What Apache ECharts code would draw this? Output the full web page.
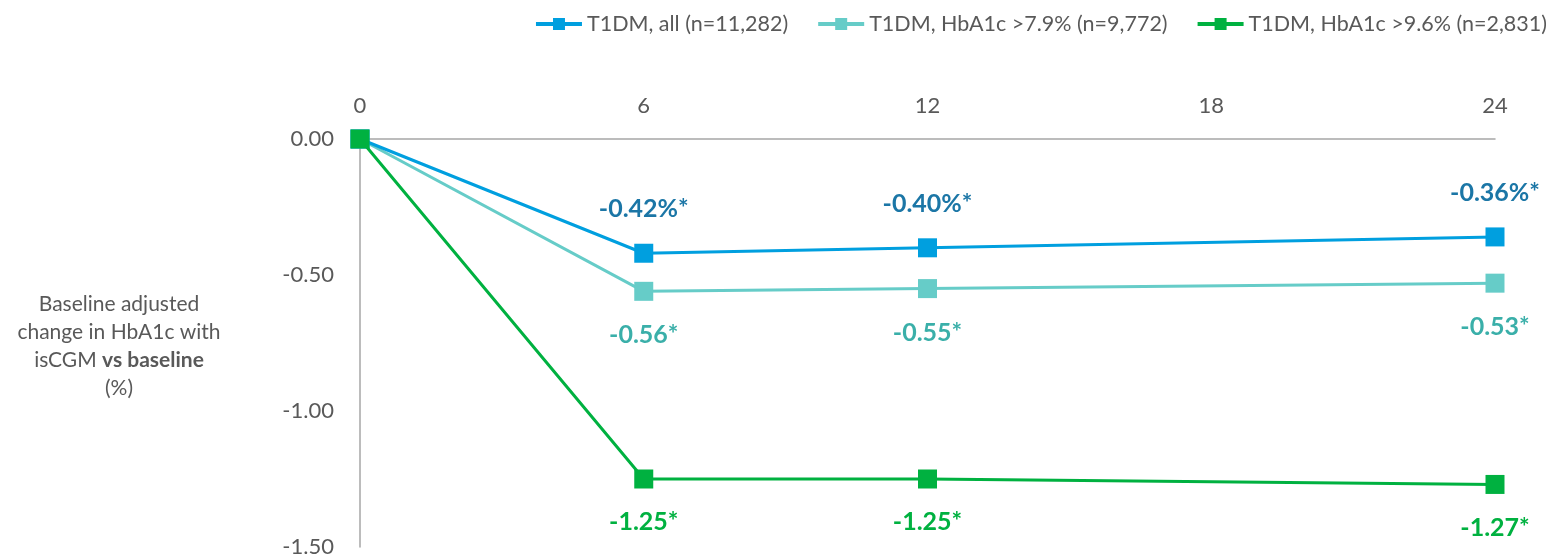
<!DOCTYPE html>
<html>
<head>
<meta charset="utf-8">
<script src="https://cdn.jsdelivr.net/npm/echarts@6/dist/echarts.min.js"></script>
<style>
  html, body { margin: 0; padding: 0; background: #fff; }
  #chart { width: 1556px; height: 558px; }
</style>
</head>
<body>
<div id="chart"></div>
<script>
// Months since isCGM start
const months = [0, 6, 12, 24];
const xTicks = [0, 6, 12, 18, 24];

// Baseline-adjusted HbA1c change (%)
const seriesNames = [
  'T1DM, all (n=11,282)',
  'T1DM, HbA1c >7.9% (n=9,772)',
  'T1DM, HbA1c >9.6% (n=2,831)'
];
const allT1dm = [0, -0.42, -0.40, -0.36];
const above79 = [0, -0.56, -0.55, -0.53];
const above96 = [0, -1.25, -1.25, -1.27];

const allLabels = ['', '-0.42%*', '-0.40%*', '-0.36%*'];
const above79Labels = ['', '-0.56*', '-0.55*', '-0.53*'];
const above96Labels = ['', '-1.25*', '-1.25*', '-1.27*'];

const FONT = 'Lato, "Open Sans", sans-serif';
const GREY = '#595959';

function pairs(vals) {
  return months.map((m, i) => [m, vals[i]]);
}

function makeSeries(name, vals, labels, color, labelColor, pos, dist, z) {
  return {
    name: name,
    type: 'line',
    data: pairs(vals),
    symbol: 'rect',
    symbolSize: 19,
    z: z,
    lineStyle: { color: color, width: 3 },
    itemStyle: { color: color },
    label: {
      show: true,
      position: pos,
      distance: dist,
      fontFamily: FONT,
      fontSize: 25,
      fontWeight: 'bold',
      color: labelColor,
      formatter: p => labels[p.dataIndex]
    },
    emphasis: { disabled: true }
  };
}

const chart = echarts.init(document.getElementById('chart'));
chart.setOption({
  animation: false,
  textStyle: { fontFamily: FONT },
  legend: {
    right: 4,
    top: 8,
    itemWidth: 46,
    itemHeight: 15,
    itemGap: 28,
    lineStyle: { width: 4 },
    textStyle: { fontFamily: FONT, fontSize: 21.5, color: GREY },
    data: seriesNames
  },
  grid: { left: 360, right: 61, top: 139, bottom: 11 },
  xAxis: {
    type: 'value',
    position: 'top',
    min: 0,
    max: 24,
    interval: 6,
    axisLine: { show: true, onZero: false, lineStyle: { color: '#A6A6A6', width: 1.5 } },
    axisTick: { show: false },
    splitLine: { show: false },
    axisLabel: {
      margin: 22,
      fontSize: 22,
      color: GREY,
      fontFamily: FONT,
      formatter: v => (xTicks.includes(v) ? String(v) : '')
    }
  },
  yAxis: {
    type: 'value',
    min: -1.5,
    max: 0,
    interval: 0.5,
    axisLine: { show: true, onZero: false, lineStyle: { color: '#A6A6A6', width: 1.5 } },
    axisTick: { show: false },
    splitLine: { show: false },
    axisLabel: {
      margin: 26,
      fontSize: 22,
      color: GREY,
      fontFamily: FONT,
      formatter: v => v.toFixed(2)
    }
  },
  graphic: [{
    type: 'text',
    x: 119,
    y: 290,
    style: {
      text: '{a|Baseline adjusted}\n{a|change in HbA1c with}\n{a|isCGM }{b|vs baseline}\n{a|(%)}',
      align: 'center',
      fill: GREY,
      rich: {
        a: { fontFamily: FONT, fontSize: 21, fill: GREY, color: GREY, lineHeight: 28, align: 'center' },
        b: { fontFamily: FONT, fontSize: 21, fill: GREY, color: GREY, fontWeight: 'bold', lineHeight: 28, align: 'center' }
      }
    }
  }],
  series: [
    makeSeries(seriesNames[0], allT1dm, allLabels, '#009FDF', '#1B76A6', 'top', 22, 3),
    makeSeries(seriesNames[1], above79, above79Labels, '#66CCC8', '#3AAFA9', 'bottom', 22, 2),
    makeSeries(seriesNames[2], above96, above96Labels, '#00B140', '#00B140', 'bottom', 21, 4)
  ]
});
</script>
</body>
</html>
